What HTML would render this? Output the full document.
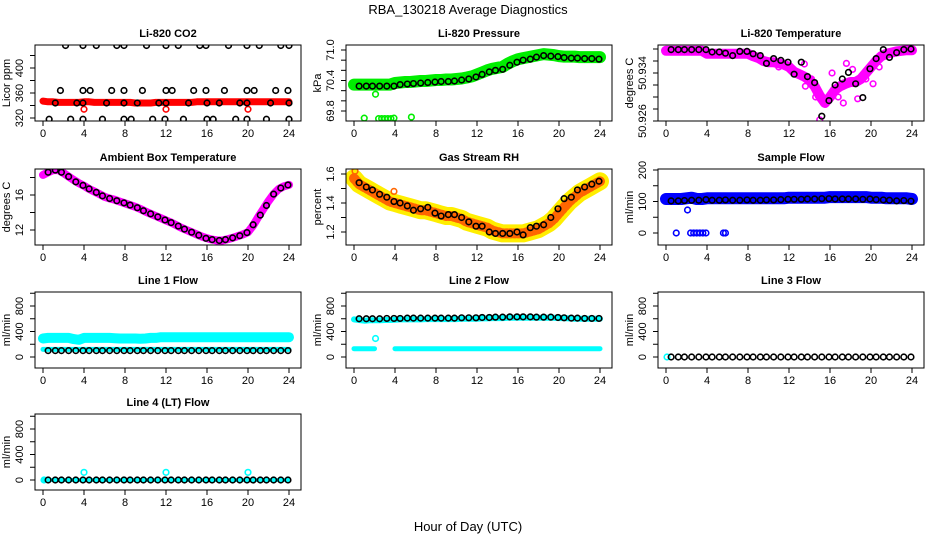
<!DOCTYPE html>
<html><head><meta charset="utf-8"><style>
body{margin:0;background:#fff;}
svg{display:block;font-family:"Liberation Sans",Arial,sans-serif;}
</style></head><body>
<svg id="chart" width="936" height="540" viewBox="0 0 936 540" xmlns="http://www.w3.org/2000/svg">
<rect width="936" height="540" fill="#fff"/>
<text x="468" y="14" text-anchor="middle" font-size="13">RBA_130218  Average Diagnostics</text>
<text x="468" y="531" text-anchor="middle" font-size="13">Hour of Day (UTC)</text>
</svg>
<script>
const xTicks = [0,4,8,12,16,20,24];
const blackHours = [0.5,1.2,1.8,2.5,3.2,3.9,4.5,5.2,5.8,6.5,7.2,7.9,8.5,9.2,9.8,10.5,11.2,11.9,12.5,13.2,13.8,14.5,15.2,15.9,16.5,17.2,17.8,18.5,19.2,19.9,20.5,21.2,21.8,22.5,23.2,23.9];

// CO2
const co2Band = [347,346,346,345,345,345,345, 345,346,346,345,345,345,345, 345,345,345,345,344,344,344, 344,345,345,345,345,345,345, 345,345,346,346,346,346,346, 346,346,346,346,346,346,346, 346,346,346,346,346,346,346];
const co2OutHours = [4.0,12.0,20.0];
const co2OutValues = [334,334,334];
const co2BlackHours = [2.2,3.9,5.2,7.2,7.9,10.1,12,13.2,15.3,15.9,18.1,19.9,21.1,23.2,24, 1.7,3.9,4.6,6.7,7.9,9.7,12,12.6,14.7,15.9,17.7,19.9,20.6,22.7,23.9, 1.2,3.3,3.9,6.2,7.9,9.2,11.3,12,14.2,16,17.2,19.2,19.9,22.2,24, 0.6,2.7,3.9,5.8,7.9,8.6,10.7,11.9,13.7,16,16.6,18.8,19.9,21.8,24];
const co2BlackValues = [436,436,436,436,436,436,436,436,436,436,436,436,436,436,436, 364,364,364,364,364,364,364,364,364,364,364,364,364,364,364, 344,344,344,344,344,344,344,344,344,344,344,344,344,344,344, 318,318,318,318,318,318,318,318,318,318,318,318,318,318,318];

// Pressure
const presBand = [70.32,70.32,70.32,70.32,70.32,70.32,70.32, 70.32,70.35,70.36,70.37,70.37,70.38,70.39, 70.39,70.40,70.41,70.41,70.42,70.42,70.43, 70.44,70.46,70.48,70.52,70.56,70.60,70.63, 70.65,70.67,70.73,70.78,70.82,70.84,70.86, 70.88,70.90,70.92,70.91,70.90,70.88,70.87, 70.87,70.87,70.86,70.86,70.86,70.86,70.86];
const presOutHours = [1.0,2.1,2.4,2.7,3.0,3.3,3.6,3.9,5.6];
const presOutValues = [69.66,70.13,69.65,69.65,69.65,69.65,69.65,69.66,69.68];
const presBlack = [70.29,70.29,70.29,70.29,70.29,70.29,70.32,70.33,70.34,70.35,70.36,70.37,70.38,70.38,70.39,70.41,70.43,70.47,70.52,70.57,70.60,70.62,70.70,70.76,70.80,70.82,70.86,70.89,70.88,70.87,70.85,70.84,70.84,70.83,70.83,70.82];

// Li-820 temperature
const tempBand = [50.9377,50.9377,50.9377,50.9377,50.9377,50.9377,50.9377, 50.9377,50.9372,50.9372,50.9372,50.9372,50.9372,50.9372, 50.9372,50.9372,50.9372,50.9368,50.9365,50.9360,50.9358, 50.9358,50.9356,50.9354,50.9350,50.9342,50.9338,50.9334, 50.9328,50.9318,50.9302,50.9290,50.9300,50.9312,50.9318, 50.9322,50.9325,50.9325,50.9330,50.9340,50.9350,50.9360, 50.9368,50.9372,50.9374,50.9376,50.9377,50.9378,50.9378];
const tempOutHours = [4.5,9.5,11,12.8,13.5,14.2,14.6,15,16.8,17.3,17.6,18.2,18.7,19.5,20.2,20.8,13.6,16.2];
const tempOutValues = [50.9372,50.9362,50.9350,50.9340,50.9355,50.9330,50.9300,50.9262,50.9300,50.9290,50.9356,50.9346,50.9297,50.9330,50.9322,50.9350,50.9318,50.9340];
const tempBlack = [50.9379,50.9379,50.9379,50.9379,50.9379,50.9379,50.9375,50.9375,50.9373,50.9369,50.9376,50.9376,50.9372,50.9369,50.9356,50.9364,50.9361,50.9358,50.9338,50.9358,50.9334,50.9324,50.9268,50.9294,50.9320,50.9330,50.9341,50.9322,50.9299,50.9347,50.9364,50.9379,50.9366,50.9374,50.9379,50.9380];

// Ambient box temperature
const ambBand = [18.3,18.6,18.85,18.85,18.5,18.1,17.7, 17.35,17.05,16.7,16.4,16.1,15.8,15.6, 15.45,15.25,15.05,14.85,14.65,14.4,14.1, 13.85,13.6,13.35,13.1,12.85,12.55,12.25, 12.0,11.75,11.5,11.25,11.05,10.9,10.8, 10.8,10.95,11.1,11.3,11.5,11.75,12.5, 13.5,14.4,15.3,16.1,16.7,17.0,17.15];
const ambBlack = [18.6,18.85,18.6,18.1,17.5,17.1,16.7,16.3,15.9,15.6,15.35,15.1,14.85,14.55,14.2,13.85,13.5,13.15,12.85,12.45,12.1,11.75,11.4,11.05,10.9,10.8,10.9,11.1,11.35,11.7,12.6,13.7,14.8,16.1,16.8,17.15];

// Gas stream RH
const rhBand = [1.57,1.53,1.51,1.49,1.47,1.45,1.43, 1.41,1.40,1.39,1.38,1.37,1.36,1.35, 1.35,1.34,1.33,1.32,1.31,1.31,1.30, 1.29,1.27,1.26,1.25,1.24,1.23,1.21, 1.20,1.19,1.19,1.19,1.19,1.19,1.20, 1.21,1.22,1.24,1.26,1.29,1.33,1.37, 1.41,1.44,1.47,1.49,1.51,1.53,1.55];
const rhOutHours = [0.1,3.9];
const rhOutValues = [1.62,1.48];
const rhBlack = [1.54,1.51,1.49,1.46,1.44,1.41,1.40,1.38,1.35,1.36,1.37,1.33,1.31,1.32,1.32,1.30,1.27,1.24,1.24,1.20,1.19,1.19,1.19,1.20,1.18,1.23,1.24,1.25,1.30,1.36,1.43,1.44,1.49,1.51,1.53,1.55];

// Sample flow
const sfBand = [108,108,108,108,110,112,108, 108,110,110,110,110,110,110, 110,110,110,110,110,110,110, 110,110,110,112,112,112,112, 112,112,112,112,114,114,114, 114,114,114,114,114,112,112, 112,110,110,110,110,110,108];
const sfOutHours = [1.0,2.1,2.4,2.7,3.0,3.3,3.6,3.9,5.6,5.8];
const sfOutValues = [0,73,0,0,0,0,0,0,0,0];
const sfBlack = [102,102,103,104,104,106,104,104,105,104,104,105,104,104,105,105,106,107,107,107,108,108,109,109,108,108,108,108,107,108,106,105,104,102,103,101];

// Line 1 flow
const l1Upper = [290,300,300,300,300,300,280, 270,300,300,300,300,300,300, 295,290,290,290,290,285,290, 300,300,310,310,310,310,310, 310,310,310,310,310,310,310, 310,310,310,310,310,310,310, 310,310,310,310,310,310,310];
const l1Lower = [120,120,120,120,120,120,120, 120,120,120,120,120,120,120, 120,120,120,120,120,120,120, 120,120,120,120,120,120,120, 120,120,120,120,120,120,120, 120,120,120,120,120,120,120, 120,120,120,120,120,120,120];
const l1Black = [100,100,100,100,100,100,100,100,100,100,100,100,100,100,100,100,100,100,100,100,100,100,100,100,100,100,100,100,100,100,100,100,100,100,100,100];

// Line 2 flow
const l2Upper = [590,580,570,575,575,575,580, 580,585,590,590,590,590,590, 595,595,595,595,595,595,595, 600,600,600,600,605,605,610, 610,610,615,615,615,615,615, 615,615,615,615,615,610,610, 605,600,600,600,600,600,600];
const l2Lower = [130,130,130,130,130,null,null, null,130,130,130,130,130,130, 130,130,130,130,130,130,130, 130,130,130,130,130,130,130, 130,130,130,130,130,130,130, 130,130,130,130,130,130,130, 130,130,130,130,130,130,130];
const l2OutHours = [2.1];
const l2OutValues = [290];
const l2Black = [600,600,600,600,605,605,605,610,610,610,610,610,610,610,610,615,615,615,620,620,625,625,630,630,630,630,625,625,625,620,615,610,610,605,605,605];

// Line 3 flow
const l3OutHours = [0.1];
const l3OutValues = [0];
const l3Black = [0,0,0,0,0,0,0,0,0,0,0,0,0,0,0,0,0,0,0,0,0,0,0,0,0,0,0,0,0,0,0,0,0,0,0,0];

// Line 4 (LT) flow
const l4Band = [0,0,0,0,0,0,0, 0,0,0,0,0,0,0, 0,0,0,0,0,0,0, 0,0,0,0,0,0,0, 0,0,0,0,0,0,0, 0,0,0,0,0,0,0, 0,0,0,0,0,0,0];
const l4OutHours = [0.1,4.0,12.0,20.0];
const l4OutValues = [0,120,120,120];
const l4Black = [0,0,0,0,0,0,0,0,0,0,0,0,0,0,0,0,0,0,0,0,0,0,0,0,0,0,0,0,0,0,0,0,0,0,0,0];

const NS = 'http://www.w3.org/2000/svg';
const svg = document.getElementById('chart');
function mk(tag, attrs, parent){const e=document.createElementNS(NS,tag);for(const k in attrs)e.setAttribute(k,attrs[k]);(parent||svg).appendChild(e);return e;}

const colL = [35,346,658], rowT = [45,169,292,414], W = 266, H = 76;
let clipId = 0;

function panel(cfg){
  const L = colL[cfg.col], T = rowT[cfg.row], R = L+W, B = T+H;
  const g = mk('g',{});
  
  
  const x = h => L+8 + h*(246/24);
  const [v1,p1,v2,p2] = cfg.yRef;
  const y = v => p1 + (v-v1)*(p2-p1)/(v2-v1);
  const id = 'c'+(clipId++);
  const cp = mk('clipPath',{id:id},g); mk('rect',{x:L,y:T,width:W,height:H},cp);
  const plot = mk('g',{'clip-path':'url(#'+id+')'},g);
  (cfg.bands||[]).forEach(b=>{
    let seg=[];
    const flush=()=>{ if(seg.length){ const pl=mk('polyline',{points:seg.join(' '),fill:'none',stroke:b.color,'stroke-width':b.w,'stroke-linejoin':'round','stroke-linecap':'round'},plot);
      
      
      if(b.w2){const p2=mk('polyline',{points:seg.join(' '),fill:'none',stroke:b.color2,'stroke-width':b.w2,'stroke-linejoin':'round','stroke-linecap':'round','stroke-dasharray':'2 2'},plot);
      
      }
      } seg=[]; };
    b.values.forEach((v,i)=>{ if(v===null){flush();} else seg.push(x(i*0.5).toFixed(1)+','+y(v).toFixed(1)); });
    flush();
  });
  (cfg.points||[]).forEach(p=>{
    p.hours.forEach((h,i)=>{
      const c = mk('circle',{cx:x(h),cy:y(p.values[i]),r:p.r||2.8,fill:'none',stroke:p.color,'stroke-width':p.sw||1.6},plot);
      
      
    });
  });
  const box = mk('rect',{x:L,y:T,width:W,height:H,fill:'none',stroke:'#000','stroke-width':1},g);
  
  
  const t = mk('text',{x:L+W/2,y:T-8,'text-anchor':'middle','font-size':11,'font-weight':'bold'},g); t.textContent=cfg.title;
  
  
  mk('line',{x1:x(0),y1:B,x2:x(24),y2:B,stroke:'#000'},g);
  xTicks.forEach(v=>{
    mk('line',{x1:x(v),y1:B,x2:x(v),y2:B+5,stroke:'#000'},g);
    const tx = mk('text',{x:x(v),y:B+16,'text-anchor':'middle','font-size':11},g); tx.textContent=v;
    
    
  });
  const yt = cfg.yticks;
  mk('line',{x1:L,y1:y(yt[0]),x2:L,y2:y(yt[yt.length-1]),stroke:'#000'},g);
  yt.forEach(v=>{ mk('line',{x1:L-5,y1:y(v),x2:L,y2:y(v),stroke:'#000'},g); });
  cfg.ylabels.forEach((v,i)=>{
    const yy = y(v);
    const tx = mk('text',{x:L-12,y:yy,'text-anchor':'middle','font-size':11,transform:'rotate(-90 '+(L-12)+' '+yy+')'},g);
    tx.textContent = cfg.ylabelText ? cfg.ylabelText[i] : v;
    
    
  });
  const yl = mk('text',{x:L-25,y:T+H/2,'text-anchor':'middle','font-size':11,transform:'rotate(-90 '+(L-25)+' '+(T+H/2)+')'},g);
  yl.textContent = cfg.ylab;
  
  
}

const flowTicks=[0,200,400,600,800,1000];
panel({name:'co2-panel',col:0,row:0,title:'Li-820 CO2',ylab:'Licor ppm',yRef:[320,118,400,68],yticks:[320,340,360,380,400,420],ylabels:[320,360,400],
  bands:[{name:'co2-band',values:co2Band,color:'#ff0000',w:7}],
  points:[{name:'co2-outlier',hours:co2OutHours,values:co2OutValues,color:'#ff0000'},{name:'co2-avg-point',hours:co2BlackHours,values:co2BlackValues,color:'#000'}]});
panel({name:'pressure-panel',col:1,row:0,title:'Li-820 Pressure',ylab:'kPa',yRef:[71,50,69.8,111],yticks:[69.8,70,70.2,70.4,70.6,70.8,71],ylabels:[69.8,70.4,71.0],ylabelText:['69.8','70.4','71.0'],
  bands:[{name:'pressure-band',values:presBand,color:'#00ee00',w:12}],
  points:[{name:'pressure-outlier',hours:presOutHours,values:presOutValues,color:'#00ee00'},{name:'pressure-avg-point',hours:blackHours,values:presBlack,color:'#000'}]});
panel({name:'temperature-panel',col:2,row:0,title:'Li-820 Temperature',ylab:'degrees C',yRef:[50.926,121,50.934,73],yticks:[50.926,50.928,50.93,50.932,50.934,50.936,50.938],ylabels:[50.926,50.934],ylabelText:['50.926','50.934'],
  bands:[{name:'temperature-band',values:tempBand,color:'#ff00ff',w:10}],
  points:[{name:'temperature-outlier',hours:tempOutHours,values:tempOutValues,color:'#ff00ff'},{name:'temperature-avg-point',hours:blackHours,values:tempBlack,color:'#000'}]});
panel({name:'ambient-panel',col:0,row:1,title:'Ambient Box Temperature',ylab:'degrees C',yRef:[16,195,12,230],yticks:[12,14,16,18],ylabels:[12,16],
  bands:[{name:'ambient-band',values:ambBand,color:'#ff00ff',w:8}],
  points:[{name:'ambient-avg-point',hours:blackHours,values:ambBlack,color:'#000'}]});
panel({name:'rh-panel',col:1,row:1,title:'Gas Stream RH',ylab:'percent',yRef:[1.6,174,1.2,232],yticks:[1.2,1.3,1.4,1.5,1.6],ylabels:[1.2,1.4,1.6],
  bands:[{name:'rh-band',values:rhBand,color:'#ffee00',w:18,color2:'#ff6600',w2:10}],
  points:[{name:'rh-outlier',hours:rhOutHours,values:rhOutValues,color:'#ff6600'},{name:'rh-avg-point',hours:blackHours,values:rhBlack,color:'#000'}]});
panel({name:'sample-flow-panel',col:2,row:1,title:'Sample Flow',ylab:'ml/min',yRef:[200,170,0,233],yticks:[0,50,100,150,200],ylabels:[0,100,200],
  bands:[{name:'sample-flow-band',values:sfBand,color:'#0000ff',w:12}],
  points:[{name:'sample-flow-outlier',hours:sfOutHours,values:sfOutValues,color:'#0000ff'},{name:'sample-flow-avg-point',hours:blackHours,values:sfBlack,color:'#000'}]});
panel({name:'line1-panel',col:0,row:2,title:'Line 1 Flow',ylab:'ml/min',yRef:[0,357,800,306],yticks:flowTicks,ylabels:[0,400,800],
  bands:[{name:'line1-upper-band',values:l1Upper,color:'#00ffff',w:10},{name:'line1-lower-band',values:l1Lower,color:'#00ffff',w:5}],
  points:[{name:'line1-avg-point',hours:blackHours,values:l1Black,color:'#000'}]});
panel({name:'line2-panel',col:1,row:2,title:'Line 2 Flow',ylab:'ml/min',yRef:[0,357,800,306],yticks:flowTicks,ylabels:[0,400,800],
  bands:[{name:'line2-upper-band',values:l2Upper,color:'#00ffff',w:6},{name:'line2-lower-band',values:l2Lower,color:'#00ffff',w:5}],
  points:[{name:'line2-outlier',hours:l2OutHours,values:l2OutValues,color:'#00ffff'},{name:'line2-avg-point',hours:blackHours,values:l2Black,color:'#000'}]});
panel({name:'line3-panel',col:2,row:2,title:'Line 3 Flow',ylab:'ml/min',yRef:[0,357,800,306],yticks:flowTicks,ylabels:[0,400,800],
  bands:[],
  points:[{name:'line3-outlier',hours:l3OutHours,values:l3OutValues,color:'#00ffff'},{name:'line3-avg-point',hours:blackHours,values:l3Black,color:'#000'}]});
panel({name:'line4-panel',col:0,row:3,title:'Line 4 (LT) Flow',ylab:'ml/min',yRef:[0,480,800,429],yticks:flowTicks,ylabels:[0,400,800],
  bands:[{name:'line4-band',values:l4Band,color:'#00ffff',w:4}],
  points:[{name:'line4-outlier',hours:l4OutHours,values:l4OutValues,color:'#00ffff'},{name:'line4-avg-point',hours:blackHours,values:l4Black,color:'#000'}]});
</script>
</body></html>
